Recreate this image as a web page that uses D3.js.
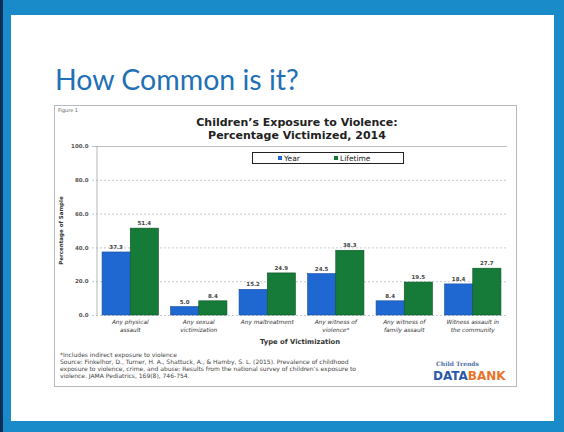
<!DOCTYPE html>
<html>
<head>
<meta charset="utf-8">
<script src="https://cdn.jsdelivr.net/npm/d3@7"></script>
<style>
  body { margin: 0; background: #fff; }
  svg { display: block; }
</style>
</head>
<body>
<svg id="slide"></svg>
<script>
// slide: children's exposure to violence, year vs lifetime

const width = 564;
const height = 432;

const categories = [
  ['Any physical', 'assault'],
  ['Any sexual', 'victimization'],
  ['Any maltreatment'],
  ['Any witness of', 'violence*'],
  ['Any witness of', 'family assault'],
  ['Witness assault in', 'the community']
];
const yearValues = [37.3, 5.0, 15.2, 24.5, 8.4, 18.4];
const lifetimeValues = [51.4, 8.4, 24.9, 38.3, 19.5, 27.7];
const seriesNames = ['Year', 'Lifetime'];
const yTicks = [0, 20, 40, 60, 80, 100];
const sourceLines = [
  '*Includes indirect exposure to violence',
  'Source: Finkelhor, D., Turner, H. A., Shattuck, A., & Hamby, S. L. (2015). Prevalence of childhood',
  'exposure to violence, crime, and abuse: Results from the national survey of children\u2019s exposure to',
  'violence. JAMA Pediatrics, 169(8), 746-754.'
];

const colors = { Year: '#1f68d2', Lifetime: '#167a38' };
const strokes = { Year: '#184f9e', Lifetime: '#0f5426' };

const svg = d3.select('#slide')
  .attr('width', width)
  .attr('height', height);

// slide frame
svg.append('rect').attr('width', width).attr('height', height).attr('fill', '#1a8bc9');
svg.append('rect').attr('x', 0).attr('y', 0).attr('width', 3).attr('height', height).attr('fill', '#0b2f57');
svg.append('rect').attr('x', 11).attr('y', 15).attr('width', 543).attr('height', 406).attr('fill', '#fff');

svg.append('text')
  .attr('x', 55).attr('y', 90)
  .attr('font-family', 'Lato, "Open Sans", sans-serif')
  .attr('font-size', 28.5)
  .attr('fill', '#1f70b4')
  .text('How Common is it?');

// chart box
svg.append('rect')
  .attr('x', 54.5).attr('y', 105.5)
  .attr('width', 462).attr('height', 281)
  .attr('fill', '#fff')
  .attr('stroke', '#b4b9c2');

svg.append('text')
  .attr('x', 58).attr('y', 112)
  .attr('font-family', 'DejaVu Sans, sans-serif')
  .attr('font-size', 5)
  .attr('fill', '#666')
  .text('Figure 1');

const title = svg.append('text')
  .attr('font-family', 'DejaVu Sans, Verdana, sans-serif')
  .attr('font-size', 11)
  .attr('font-weight', 'bold')
  .attr('text-anchor', 'middle')
  .attr('fill', '#222');
title.append('tspan').attr('x', 297).attr('y', 126).text('Children\u2019s  Exposure to Violence:');
title.append('tspan').attr('x', 297).attr('y', 138.5).text('Percentage Victimized, 2014');

// plot
const plot = { left: 96, right: 507, top: 146, bottom: 315 };

const x = d3.scaleBand()
  .domain(d3.range(categories.length))
  .range([plot.left, plot.right])
  .paddingInner(0)
  .paddingOuter(0);

const xSub = d3.scaleBand()
  .domain(seriesNames)
  .range([0, x.bandwidth()])
  .paddingInner(0)
  .paddingOuter(0.215);

const y = d3.scaleLinear()
  .domain([0, 100])
  .range([plot.bottom, plot.top]);

// gridlines
svg.append('g')
  .selectAll('line')
  .data(yTicks)
  .join('line')
    .attr('x1', plot.left - 4).attr('x2', plot.right)
    .attr('y1', d => y(d) + 0.5).attr('y2', d => y(d) + 0.5)
    .attr('stroke', d => d === 100 ? '#a9adb3' : '#b9bcc0')
    .attr('stroke-width', 0.8)
    .attr('stroke-dasharray', d => d === 100 ? null : '2,2');

const yAxis = d3.axisLeft(y)
  .tickValues(yTicks)
  .tickFormat(d3.format('.1f'))
  .tickSize(0)
  .tickPadding(8);

svg.append('g')
  .attr('transform', `translate(${plot.left + 0.5},0)`)
  .call(yAxis)
  .call(g => g.select('.domain').attr('stroke', '#9ea3aa').attr('stroke-width', 0.8))
  .call(g => g.selectAll('text')
    .attr('font-family', 'DejaVu Sans, sans-serif')
    .attr('font-size', 5.5)
    .attr('font-weight', 'bold')
    .attr('fill', '#555'));

svg.append('text')
  .attr('transform', `translate(63,${(plot.top + plot.bottom) / 2}) rotate(-90)`)
  .attr('text-anchor', 'middle')
  .attr('font-family', 'DejaVu Sans, sans-serif')
  .attr('font-size', 5.5)
  .attr('font-weight', 'bold')
  .attr('fill', '#333')
  .text('Percentage of Sample');

// bars
const rows = categories.map((c, i) => ({
  i,
  values: [
    { key: 'Year', value: yearValues[i] },
    { key: 'Lifetime', value: lifetimeValues[i] }
  ]
}));

const groups = svg.append('g')
  .selectAll('g')
  .data(rows)
  .join('g')
    .attr('transform', d => `translate(${x(d.i)},0)`);

groups.selectAll('rect')
  .data(d => d.values)
  .join('rect')
    .attr('x', d => xSub(d.key))
    .attr('y', d => y(d.value))
    .attr('width', xSub.bandwidth())
    .attr('height', d => y(0) - y(d.value))
    .attr('fill', d => colors[d.key])
    .attr('stroke', d => strokes[d.key])
    .attr('stroke-width', 0.6);

groups.selectAll('text')
  .data(d => d.values)
  .join('text')
    .attr('x', d => xSub(d.key) + xSub.bandwidth() / 2)
    .attr('y', d => y(d.value) - 3)
    .attr('text-anchor', 'middle')
    .attr('font-family', 'DejaVu Sans, sans-serif')
    .attr('font-size', 5.5)
    .attr('font-weight', 'bold')
    .attr('fill', '#444')
    .text(d => d3.format('.1f')(d.value));

// category labels
const xLabels = svg.append('g')
  .selectAll('text')
  .data(categories)
  .join('text')
    .attr('text-anchor', 'middle')
    .attr('font-family', 'DejaVu Sans, sans-serif')
    .attr('font-size', 5.8)
    .attr('font-style', 'italic')
    .attr('fill', '#333');

xLabels.selectAll('tspan')
  .data((d, i) => d.map(line => ({ line, i })))
  .join('tspan')
    .attr('x', d => x(d.i) + x.bandwidth() / 2)
    .attr('y', (d, j) => 324 + j * 7.5)
    .text(d => d.line);

svg.append('text')
  .attr('x', 300).attr('y', 344)
  .attr('text-anchor', 'middle')
  .attr('font-family', 'DejaVu Sans, sans-serif')
  .attr('font-size', 6.8)
  .attr('font-weight', 'bold')
  .attr('fill', '#333')
  .text('Type of Victimization');

// legend
const legend = svg.append('g').attr('transform', 'translate(252,152)');
legend.append('rect')
  .attr('x', 0.5).attr('y', 0.5)
  .attr('width', 151).attr('height', 11)
  .attr('fill', '#fff')
  .attr('stroke', '#222')
  .attr('stroke-width', 1);

const legendItems = legend.selectAll('g.item')
  .data(seriesNames)
  .join('g')
    .attr('class', 'item')
    .attr('transform', (d, i) => `translate(${26 + i * 56},0)`);

legendItems.append('rect')
  .attr('x', 0).attr('y', 4)
  .attr('width', 4).attr('height', 4)
  .attr('fill', d => colors[d]);

legendItems.append('text')
  .attr('x', 6).attr('y', 8.5)
  .attr('font-family', 'DejaVu Sans, sans-serif')
  .attr('font-size', 7.5)
  .attr('fill', '#222')
  .text(d => d);

// source note
svg.append('g')
  .selectAll('text')
  .data(sourceLines)
  .join('text')
    .attr('x', 60)
    .attr('y', (d, i) => 357 + i * 7)
    .attr('font-family', 'DejaVu Sans, sans-serif')
    .attr('font-size', 6)
    .attr('fill', '#444')
    .text(d => d);

// Child Trends DataBank logo
svg.append('text')
  .attr('x', 436).attr('y', 366)
  .attr('font-family', 'DejaVu Serif, serif')
  .attr('font-size', 6)
  .attr('font-weight', 'bold')
  .attr('fill', '#4a6fa5')
  .text('Child Trends');

const logo = svg.append('text')
  .attr('x', 433).attr('y', 380)
  .attr('font-family', 'DejaVu Sans, sans-serif')
  .attr('font-size', 12)
  .attr('font-weight', 'bold');
logo.append('tspan').attr('fill', '#2a5aa8').text('DATA');
logo.append('tspan').attr('fill', '#e9742a').text('BANK');
</script>
</body>
</html>
